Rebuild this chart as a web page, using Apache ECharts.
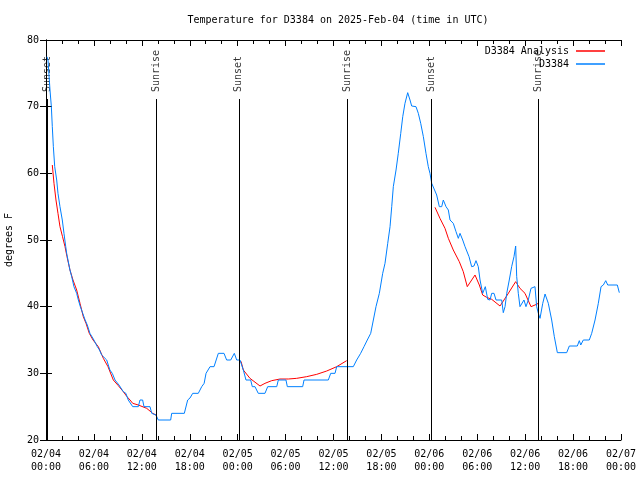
<!DOCTYPE html>
<html>
<head>
<meta charset="utf-8">
<script src="https://cdn.jsdelivr.net/npm/echarts@6/dist/echarts.min.js"></script>
<style>html,body{margin:0;padding:0;background:#fff}#c{width:640px;height:480px}</style>
</head>
<body>
<div id="c"></div>
<script>
// Hours since 2025-02-04 00:00 UTC
const startDates = ['02/04', '02/05', '02/06', '02/07'];
const tickHours = [0, 6, 12, 18, 24, 30, 36, 42, 48, 54, 60, 66, 72];

// D3384 observations
const obsHours = [0.12,0.25,0.5,0.67,0.79,0.92,1.09,1.34,1.5,1.75,2.04,2.25,2.47,2.59,2.75,3.0,3.22,3.5,3.84,4.05,4.3,4.6,4.9,5.17,5.5,6.0,6.42,6.7,6.97,7.6,8.0,8.3,8.64,9.14,9.68,10.0,10.3,10.86,11.56,11.77,12.1,12.27,13.02,13.24,13.77,14.06,15.61,15.74,17.32,17.74,18.03,18.37,19.07,19.5,19.8,20.04,20.54,21.04,21.58,22.29,22.62,23.13,23.58,23.88,24.29,24.71,25.04,25.63,25.83,26.17,26.58,27.42,27.76,28.89,29.09,30.05,30.22,32.14,32.31,35.35,35.65,36.19,36.4,38.48,38.9,39.4,39.82,40.23,40.66,40.99,41.32,41.74,42.16,42.45,42.79,43.08,43.29,43.49,43.83,44.11,44.42,44.67,44.95,45.29,45.58,45.79,46.33,46.62,46.92,47.25,47.58,47.87,48.08,48.3,48.92,49.25,49.55,49.75,50.09,50.38,50.59,51.0,51.34,51.63,51.84,52.18,52.47,52.97,53.3,53.59,53.84,54.13,54.35,54.68,55.01,55.31,55.6,55.81,56.1,56.35,57.06,57.26,57.48,57.69,58.01,58.31,58.6,58.81,58.94,59.14,59.35,59.56,59.85,60.1,60.39,60.73,61.23,61.44,61.65,61.86,62.2,62.49,62.9,63.32,63.65,64.03,65.2,65.53,66.53,66.78,66.96,67.28,68.03,68.33,68.75,69.16,69.5,69.79,70.09,70.34,71.54,71.79];
const obsTemps = [77.5,77,72.5,70,67,64,61,59,57,55,53,51,49,48,47,45.5,44.5,43,42,41,40,39,38,37.25,36,35,34,33.5,32.75,32,30.5,30,29,28.25,27.25,27,26,25,25,26,26,25,25,24,23.75,23,23,24,24,26,26.3,27,27,28,28.5,30,31,31,33,33,32,32,33,32,32,30.5,29,29,28,28,27,27,28,28,29,29,28,28,29,29,30,30,31,31,32,33,34,35,36,38,40,42,45,46.5,49.5,52,55,58,60.5,63,66,68.5,70.5,72.1,71,70.1,70,69,67.5,65.5,63,61,60,58.5,56.75,55,55,56,55,54.5,53,52.5,51.25,50.25,51,50,49,47.5,46,46.1,46.9,46,44,42,43,41.1,41,42,42,41,41,39.1,40,42,44,46,47.5,49.1,44.5,42,40,40,41,40,41,42.75,43,40,39,38.25,40.5,41.9,40.5,38,35.5,33.1,33.1,34.1,34.1,34.9,34.25,35,35,36,38,40.5,43,43.25,43.9,43.25,43.25,42.1];

// D3384 Analysis (three night-time segments)
const anaHours1 = [0.79,1.0,1.25,1.5,1.75,2.07,2.38,2.63,3.0,3.38,3.84,4.26,4.67,5.01,5.42,5.89,6.55,7.18,7.76,8.43,9.02,9.68,10.14,10.52,10.86,11.56,12.61,13.36,13.77];
const anaTemps1 = [61.25,58.5,56,54,52,50.5,49,47.5,45.5,44,42.5,40.5,38.5,37.5,36,35,34,32.25,31,29,28.2,27.25,26.5,26,25.5,25.25,24.75,24,23.75];
const anaHours2 = [24.42,24.71,25.54,26.8,27.42,28.26,29.3,30.34,31.39,32.64,33.9,35.15,36.4,37.65];
const anaTemps2 = [31.8,30.5,29.25,28.1,28.5,28.9,29.15,29.15,29.25,29.5,29.85,30.35,31,31.9];
const anaHours3 = [48.71,49.33,49.96,50.38,51.0,51.75,52.25,52.75,53.72,54.26,54.68,55.18,55.81,56.85,57.76,58.81,59.35,59.98,60.73,61.23,61.65];
const anaTemps3 = [54.9,53.25,51.75,50.25,48.5,46.75,45.25,43,44.75,43.25,41.75,41.4,41.1,40.1,41.75,43.75,42.75,42,40,40.25,40.5];

// Sunrise / sunset markers
const sunHours = [0.12, 13.77, 24.15, 37.72, 48.2, 61.7];
const sunNames = ['Sunset', 'Sunrise', 'Sunset', 'Sunrise', 'Sunset', 'Sunrise'];

const FONT = 'DejaVu Sans Mono';
const zip = (a, b) => a.map((v, i) => [v, b[i]]);
const MARK_TOP = 71.15;

function fmtX(v) {
  const d = Math.floor(v / 24);
  const h = v - d * 24;
  return startDates[d] + '\n' + String(h).padStart(2, '0') + ':00';
}

const chart = echarts.init(document.getElementById('c'), null, {renderer: 'canvas'});
const xCommon = {
  type: 'value', min: 0, max: 72, interval: 6,
  axisLine: {show: true, lineStyle: {color: '#000', width: 1}},
  axisTick: {show: true, inside: true, length: 6, lineStyle: {color: '#000'}},
  minorTick: {show: true, splitNumber: 3, length: 4, lineStyle: {color: '#000'}},
  splitLine: {show: false}
};
const yCommon = {
  type: 'value', min: 20, max: 80, interval: 10,
  axisLine: {show: true, lineStyle: {color: '#000', width: 1}},
  axisTick: {show: true, inside: true, length: 6, lineStyle: {color: '#000'}},
  splitLine: {show: false}
};
const redStyle = {type: 'line', name: 'D3384 Analysis', symbol: 'none', color: '#ff0000',
  lineStyle: {width: 1, color: '#ff0000'}, z: 3};

chart.setOption({
  animation: false,
  backgroundColor: '#fff',
  textStyle: {fontFamily: FONT},
  title: {
    text: 'Temperature for D3384 on 2025-Feb-04 (time in UTC)',
    left: 333, top: 10, textAlign: 'center',
    textStyle: {fontFamily: FONT, fontSize: 10, fontWeight: 'normal', color: '#000'}
  },
  legend: [
    {data: ['D3384 Analysis'], right: 30, top: 41, orient: 'vertical', align: 'right',
     icon: 'rect', itemWidth: 29, itemHeight: 1.5,
     textStyle: {fontFamily: FONT, fontSize: 10, color: '#000', padding: [0, 2, 0, 0]}},
    {data: ['D3384'], right: 30, top: 54, orient: 'vertical', align: 'right',
     icon: 'rect', itemWidth: 29, itemHeight: 1.5,
     textStyle: {fontFamily: FONT, fontSize: 10, color: '#000', padding: [0, 2, 0, 0]}}
  ],
  grid: {left: 46, top: 40, width: 575, height: 400, show: false, containLabel: false, outerBoundsMode: 'none'},
  xAxis: [
    Object.assign({}, xCommon, {position: 'bottom',
      axisLabel: {show: true, formatter: fmtX, color: '#000', fontFamily: FONT, fontSize: 10, lineHeight: 13, margin: 8}}),
    Object.assign({}, xCommon, {position: 'top', axisLabel: {show: false}})
  ],
  yAxis: [
    Object.assign({}, yCommon, {position: 'left', name: 'degrees F', nameLocation: 'middle', nameGap: 32, nameRotate: 90,
      nameTextStyle: {fontFamily: FONT, fontSize: 10, color: '#000'},
      axisLabel: {show: true, color: '#000', fontFamily: FONT, fontSize: 10, margin: 7}}),
    Object.assign({}, yCommon, {position: 'right', axisLabel: {show: false}})
  ],
  series: [
    {type: 'scatter', name: 'sun', symbolSize: 0, z: 2, silent: true,
     data: sunHours.map((h, i) => ({value: [h, MARK_TOP], name: sunNames[i]})),
     label: {show: true, formatter: '{b}', position: 'top', distance: 7, rotate: 90,
       align: 'left', verticalAlign: 'middle', fontFamily: FONT, fontSize: 10, color: '#000'},
     markLine: {silent: true, symbol: ['none', 'none'], label: {show: false},
       lineStyle: {color: '#000', width: 1, type: 'solid'},
       data: sunHours.map(h => [{coord: [h, 20]}, {coord: [h, MARK_TOP]}])}},
    Object.assign({}, redStyle, {data: zip(anaHours1, anaTemps1)}),
    Object.assign({}, redStyle, {data: zip(anaHours2, anaTemps2)}),
    Object.assign({}, redStyle, {data: zip(anaHours3, anaTemps3)}),
    {type: 'line', name: 'D3384', symbol: 'none', color: '#0080ff',
     lineStyle: {width: 1, color: '#0080ff'}, z: 4, data: zip(obsHours, obsTemps)}
  ]
});
</script>
</body>
</html>
